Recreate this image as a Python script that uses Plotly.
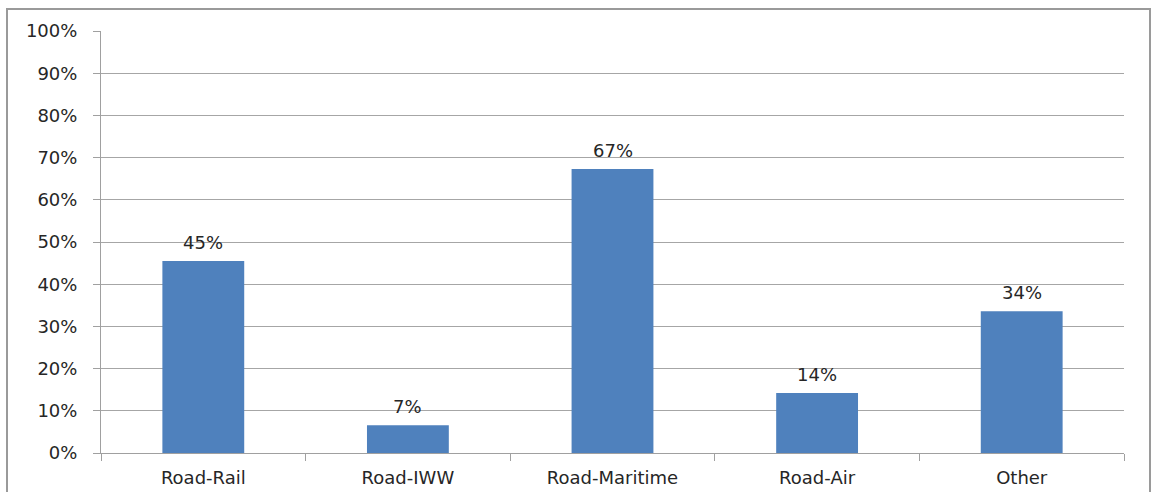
import plotly.graph_objects as go

categories = ["Road-Rail", "Road-IWW", "Road-Maritime", "Road-Air", "Other"]
values = [0.455, 0.066, 0.673, 0.142, 0.336]
labels = ["45%", "7%", "67%", "14%", "34%"]
ytick_vals = [i / 10 for i in range(11)]
ytick_text = [f"{i * 10}%" for i in range(11)]

W, H = 1152, 492
ml, mr, mt, mb = 101, 28, 31, 39
pw, ph = W - ml - mr, H - mt - mb
FONT = "DejaVu Sans"

fig = go.Figure(go.Bar(
    x=categories, y=values,
    marker=dict(color="#4F81BD", line=dict(width=0)),
    width=0.4, hoverinfo="skip",
))

for c, v, t in zip(categories, values, labels):
    fig.add_annotation(
        x=c, y=v, text=t, showarrow=False, yanchor="bottom", yshift=6,
        font=dict(size=18, color="#262626", family=FONT),
    )

fig.update_layout(
    width=W, height=H,
    margin=dict(l=ml, r=mr, t=mt, b=mb, autoexpand=False),
    paper_bgcolor="white", plot_bgcolor="white",
    font=dict(family=FONT, size=18, color="#262626"),
    showlegend=False,
    xaxis=dict(
        showline=True, linecolor="#A0A0A0", linewidth=1,
        ticks="outside", tickson="boundaries", ticklen=7, tickcolor="#A0A0A0",
        showgrid=False, tickfont=dict(size=18), zeroline=False,
        ticklabelstandoff=8, automargin=False,
    ),
    yaxis=dict(
        range=[0, 1], tickvals=ytick_vals, ticktext=ytick_text,
        showline=True, linecolor="#A0A0A0", linewidth=1,
        ticks="outside", ticklen=7, tickcolor="#A0A0A0",
        showgrid=True, gridcolor="#A6A6A6", gridwidth=1,
        zeroline=False, tickfont=dict(size=18),
        ticklabelstandoff=12, automargin=False,
    ),
    shapes=[dict(
        type="rect", xref="paper", yref="paper",
        x0=(7 - ml) / pw, x1=(1150 - ml) / pw,
        y0=-0.3, y1=(H - mb - 9) / ph,
        line=dict(color="#9A9A9A", width=2), layer="below",
    )],
)

fig.write_html(
    "out.html",
    config={"displayModeBar": False},
    post_script="document.body.style.margin='0';document.body.style.overflow='hidden';",
)
